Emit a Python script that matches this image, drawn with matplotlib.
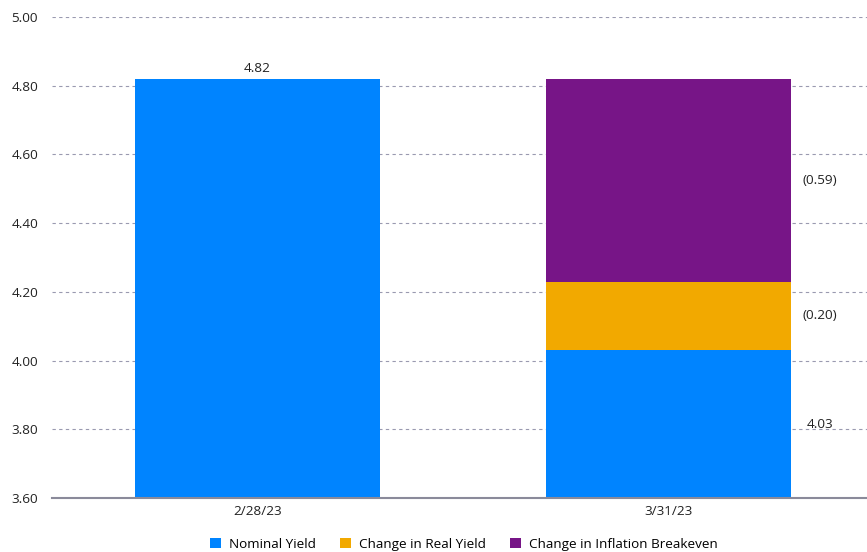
import numpy as np
import matplotlib.pyplot as plt

dates = ['2/28/23', '3/31/23']
nominal = [4.82, 4.03]
real_chg = [0, 0.20]
infl_chg = [0, 0.59]
right_labels = ['4.03', '(0.20)', '(0.59)']
series = ['Nominal Yield', 'Change in Real Yield', 'Change in Inflation Breakeven']
colors = ['#0084FF', '#F2A900', '#771587']

plt.rcParams['font.family'] = ['Open Sans', 'DejaVu Sans']
fs = 9.7

fig = plt.figure(figsize=(8.67, 5.52), dpi=100)
ax = fig.add_axes([0.060, 0.098, 0.940, 0.871])

x = np.arange(len(dates))
base = 3.60
w = 0.596
nom = np.array(nominal) - base
b1 = ax.bar(x, nom, w, bottom=base, color=colors[0], label=series[0], zorder=3)
b2 = ax.bar(x[1:], real_chg[1:], w, bottom=nominal[1], color=colors[1], label=series[1], zorder=3)
b3 = ax.bar(x[1:], infl_chg[1:], w, bottom=nominal[1] + real_chg[1], color=colors[2], label=series[2], zorder=3)

ax.set_ylim(3.60, 5.00)
ax.set_xlim(-0.5, 1.484)
ax.set_yticks(np.arange(3.60, 5.001, 0.20))
ax.set_yticklabels(['%.2f' % v for v in np.arange(3.60, 5.001, 0.20)])
ax.set_xticks(x)
ax.set_xticklabels(dates)
ax.tick_params(length=0, labelsize=fs, colors='#222222')
ax.tick_params(axis='y', pad=10)
ax.tick_params(axis='x', pad=5)

ax.yaxis.grid(True, linestyle=(0, (3, 3)), color='#9a9ab0', linewidth=0.8, zorder=0)
for s in ['top', 'right', 'left']:
    ax.spines[s].set_visible(False)
ax.spines['bottom'].set_color('#8a8a9a')
ax.spines['bottom'].set_linewidth(1.5)
ax.spines['bottom'].set_zorder(4)

# value labels
ax.text(x[0], nominal[0] + 0.012, '%.2f' % nominal[0], ha='center', va='bottom', fontsize=fs, color='#222222')
lx = x[1] + 0.37
mids = [(base + nominal[1]) / 2,
        nominal[1] + real_chg[1] / 2,
        nominal[1] + real_chg[1] + infl_chg[1] / 2]
for m, t in zip(mids, right_labels):
    ax.text(lx, m, t, ha='center', va='center', fontsize=fs, color='#222222')

fig.legend(handles=[b1, b2, b3], labels=series, loc='lower center', bbox_to_anchor=(0.535, -0.02),
           ncol=3, frameon=False, fontsize=fs, handlelength=0.8, handleheight=0.8,
           columnspacing=1.8, handletextpad=0.6)

fig.savefig('out.png', dpi=100)
